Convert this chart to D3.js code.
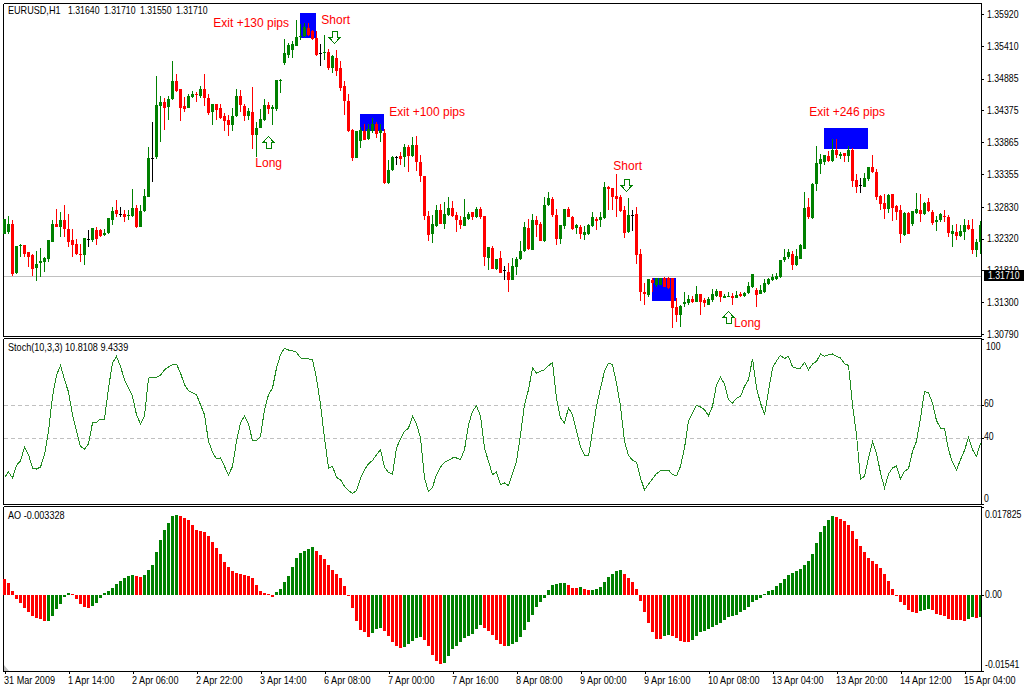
<!DOCTYPE html>
<html><head><meta charset="utf-8">
<script src="https://cdn.jsdelivr.net/npm/d3@7"></script>
<style>
html,body{margin:0;padding:0;background:#fff;overflow:hidden}
svg{display:block}
text{font-family:"Liberation Sans",Arial,sans-serif}
.small{font-size:10.5px;fill:#000}
.note{font-size:12px;fill:#ff0000}
.tick text{font-family:"Liberation Sans",Arial,sans-serif;font-size:10.5px;fill:#000}
.domain,.tick line{stroke:#000;shape-rendering:crispEdges}
</style></head><body>
<svg id="c" width="1024" height="687"></svg>
<script>
// Prices are pips above priceBase.
const priceBase = 1.30;
const highs = [263,268,262,220,223,222,211,207,212,217,203,230,262,279,274,286,272,248,231,224,233,246,249,251,248,248,265,283,294,283,277,278,311,286,286,311,378,419,493,461,457,461,517,496,472,459,464,469,467,477,496,464,448,448,448,434,430,442,472,470,448,441,475,419,439,456,451,446,486,488,552,546,548,582,576,578,578,567,564,544,558,536,526,535,516,484,464,407,405,411,416,416,426,419,416,407,358,364,365,371,383,382,395,396,366,332,276,270,286,287,290,298,293,274,268,295,274,275,283,282,268,218,220,200,212,188,193,201,203,228,258,263,272,268,259,298,307,298,280,254,279,282,268,255,254,252,256,274,266,274,322,317,313,336,302,284,297,278,283,216,160,167,169,168,168,170,170,168,136,125,147,141,140,156,143,136,139,151,151,148,143,146,144,148,147,146,163,175,152,158,167,168,175,176,198,216,216,212,215,223,307,297,321,380,367,366,372,392,392,371,369,380,377,335,329,337,346,366,343,302,303,303,304,286,286,274,274,276,305,303,291,297,278,268,273,278,270,254,255,254,263,262,263,232,260];
const lows = [239,240,172,175,203,203,187,172,164,171,179,195,226,251,235,235,219,203,206,195,190,219,227,222,234,236,239,254,267,267,259,261,267,249,251,274,298,322,360,386,406,422,454,467,421,435,442,457,451,458,445,430,414,422,423,404,396,404,427,435,421,422,376,363,409,421,431,414,437,465,510,521,521,540,551,555,557,550,525,508,519,502,498,493,468,430,403,357,361,377,390,390,402,393,387,319,320,341,350,350,346,338,362,340,323,262,228,225,250,256,247,268,266,243,247,252,261,261,265,264,188,182,183,182,177,166,147,166,174,198,210,214,214,235,228,227,284,266,221,224,248,266,246,239,231,230,238,251,246,251,264,277,277,267,275,233,241,244,191,132,126,139,147,154,157,154,151,89,99,91,123,125,129,130,110,122,125,131,139,130,136,138,126,136,138,138,143,152,123,143,145,158,164,166,169,195,200,181,188,199,215,264,263,309,335,350,355,354,361,360,355,355,315,305,305,314,324,337,294,278,264,273,260,261,225,236,239,252,271,259,270,274,254,244,258,258,234,218,230,235,229,246,207,202,208];
const opens = [240,243,255,176,220,221,211,205,185,193,194,199,227,256,251,262,247,230,223,207,206,231,229,246,246,238,241,262,278,272,272,269,268,281,251,276,299,361,362,445,451,443,456,484,472,445,442,459,464,461,472,458,435,448,442,429,422,414,428,461,445,429,435,398,410,422,446,439,440,484,513,526,534,541,555,556,570,565,553,529,529,531,506,522,505,476,453,406,361,389,405,392,405,416,402,402,321,342,362,364,362,378,364,382,355,332,268,239,252,278,255,270,281,270,262,252,263,274,267,280,268,201,217,184,201,181,178,166,187,199,212,249,214,262,255,228,286,296,270,231,252,280,266,249,250,238,239,252,263,261,265,315,313,300,299,278,243,270,272,207,147,141,166,158,158,168,168,168,122,109,127,129,135,130,143,134,126,133,140,148,137,139,140,137,143,140,144,155,150,143,146,159,165,167,170,198,202,208,190,200,216,282,265,320,351,355,364,357,374,365,369,364,374,326,318,315,327,346,339,300,289,279,303,284,278,237,273,255,273,278,271,291,274,258,261,268,267,240,242,236,242,254,247,214,226];
const closes = [263,256,175,220,222,207,203,184,192,196,201,229,256,251,262,248,227,221,207,205,233,231,249,231,236,241,265,276,272,272,267,270,281,251,276,300,361,361,446,451,442,456,484,469,442,439,461,464,463,472,458,434,448,438,425,420,414,429,461,446,429,436,398,410,424,446,440,443,486,486,529,542,544,555,557,571,559,552,526,529,531,506,525,501,474,453,405,361,405,406,390,408,416,399,406,321,342,362,362,360,378,364,382,355,332,268,238,255,278,256,272,281,268,262,254,266,272,267,280,267,203,218,183,199,177,181,166,188,199,212,251,215,262,253,228,286,297,269,232,254,279,267,247,253,239,243,254,266,260,267,315,312,299,296,276,241,270,270,206,146,143,167,160,168,168,155,152,120,109,124,130,135,131,143,130,128,135,143,148,138,140,140,136,142,140,145,156,175,141,150,161,167,171,172,198,202,211,190,204,221,281,266,320,353,359,366,356,374,366,367,364,374,324,315,318,329,346,338,299,287,279,302,281,274,240,273,240,276,279,271,289,276,257,262,271,266,241,244,236,244,254,247,214,226,254];

const stochValues = [16.1,19.4,15.7,23.4,26.2,34.3,29.9,21.8,21.2,22.4,29.9,44.0,65.2,78.0,84.0,75.3,67.9,54.1,44.0,34.9,33.3,36.5,49.1,49.5,51.5,51.5,70.3,85.4,89.5,83.4,75.3,70.3,65.2,54.1,48.5,53.1,76.3,76.7,76.9,78.0,81.4,83.0,84.4,84.8,79.4,72.3,68.7,67.3,66.2,60.2,54.1,38.0,31.5,27.3,27.9,22.8,17.6,22.8,38.0,49.1,53.3,48.5,38.4,38.4,41.0,57.2,66.2,70.3,82.4,90.5,94.5,93.3,92.9,91.9,88.5,87.9,87.9,87.5,76.3,60.2,40.0,21.8,22.8,16.1,14.7,10.7,8.1,6.4,8.1,15.7,20.8,24.4,26.4,29.9,32.9,22.4,19.2,18.2,33.9,39.6,44.0,46.0,53.1,48.5,40.0,15.7,7.5,10.1,17.8,22.4,25.4,26.4,27.9,27.9,26.9,32.9,48.1,56.1,59.6,53.1,33.9,25.8,17.8,19.4,11.7,12.7,11.1,18.2,25.8,42.0,60.2,69.3,82.4,79.4,80.4,81.4,83.8,85.8,64.2,52.1,49.1,58.2,54.1,44.0,34.5,29.5,29.1,44.0,59.2,70.3,80.4,85.4,84.4,73.3,59.2,38.0,29.5,26.6,25.4,15.7,8.5,12.1,15.3,18.4,20.2,20.6,20.6,17.8,17.0,22.8,33.9,50.5,55.1,59.8,58.8,57.2,53.5,59.2,72.3,76.9,72.7,63.2,61.2,64.2,65.2,71.3,75.3,88.1,70.3,61.2,54.1,68.3,82.4,86.8,90.1,88.1,89.5,83.2,82.4,82.4,85.8,81.4,84.8,86.4,90.9,89.5,90.5,90.9,89.5,88.5,85.0,84.0,60.2,42.0,15.1,16.8,27.9,37.6,30.9,18.8,9.7,18.2,21.8,23.0,15.1,19.8,21.4,31.9,38.0,52.1,68.3,67.3,61.2,50.5,46.0,46.0,32.9,25.2,20.6,26.9,32.5,40.4,32.9,28.9,36.9];

// Awesome Oscillator, in thousandths.
const aoValues = [3.24,2.43,.81,-.81,-1.62,-2.63,-3.50,-4.25,-4.58,-4.85,-5.26,-5.26,-4.25,-2.83,-1.82,-.40,.40,.13,-.81,-1.82,-2.43,-2.63,-2.22,-1.62,-.61,.40,.81,1.42,2.22,2.83,3.44,3.84,4.04,3.84,3.64,4.04,5.06,6.07,8.69,11.12,13.14,14.56,15.97,16.18,15.97,15.57,15.17,14.15,13.14,12.94,12.74,11.93,10.72,9.50,8.29,6.67,5.66,4.85,4.45,4.25,4.04,3.91,3.44,2.02,.81,.40,.20,-.40,.61,1.21,2.63,3.84,5.59,7.41,8.49,8.90,9.30,9.71,8.90,8.09,7.28,6.07,5.06,4.25,3.44,1.82,-.13,-2.63,-5.26,-7.08,-7.55,-8.49,-7.68,-6.87,-6.67,-7.28,-8.29,-9.50,-10.31,-10.72,-10.51,-9.91,-9.30,-8.69,-8.49,-9.10,-10.31,-12.13,-13.35,-13.95,-13.75,-12.27,-10.92,-10.31,-9.50,-8.69,-8.29,-7.89,-6.87,-6.07,-6.67,-7.28,-8.09,-9.10,-9.91,-10.31,-10.31,-9.91,-9.50,-8.49,-7.08,-5.46,-4.04,-2.43,-1.42,-.61,1.01,2.02,2.22,2.43,2.43,2.02,1.42,1.42,1.62,1.21,1.01,1.01,1.21,1.62,2.63,3.64,4.25,4.85,5.06,4.25,3.44,2.63,1.21,-1.21,-3.44,-5.66,-7.48,-8.90,-8.90,-8.29,-8.09,-8.29,-8.69,-9.30,-9.50,-9.50,-9.10,-8.29,-7.48,-7.28,-6.87,-6.47,-6.07,-5.66,-5.06,-4.45,-4.25,-4.04,-3.44,-3.03,-2.43,-1.42,-1.01,-.61,.20,.81,1.01,1.82,2.43,3.24,4.04,4.45,4.85,5.26,6.07,6.87,8.29,10.51,12.74,13.95,15.17,15.97,15.77,15.37,14.96,14.15,12.94,11.32,9.91,8.69,7.48,6.87,6.27,5.46,4.25,2.83,1.21,-.13,-1.42,-2.02,-3.03,-3.44,-3.64,-3.24,-3.03,-2.83,-3.03,-3.84,-4.04,-4.25,-4.85,-5.06,-5.06,-5.06,-5.26,-4.85,-4.45,-4.65,-4.38];
const aoColorRuns = [["r",11],["g",6],["r",5],["g",11],["r",2],["g",9],["r",24],["g",10],["r",14],["g",3],["r",5],["g",5],["r",5],["g",10],["r",6],["g",15],["r",3],["g",1],["r",2],["g",8],["r",10],["g",2],["r",5],["g",36],["r",21],["g",3],["r",9],["g",2],["r",1],["g",1]];

const timeLabels = ["31 Mar 2009","1 Apr 14:00","2 Apr 06:00","2 Apr 22:00","3 Apr 14:00","6 Apr 08:00","7 Apr 00:00","7 Apr 16:00","8 Apr 08:00","9 Apr 00:00","9 Apr 16:00","10 Apr 08:00","13 Apr 04:00","13 Apr 20:00","14 Apr 12:00","15 Apr 04:00"];
const barsPerLabel = 16;
const priceTicks = [1.35920,1.35410,1.34885,1.34375,1.33865,1.33355,1.32830,1.32320,1.31810,1.31300,1.30790];
const currentPrice = 1.31710;
const stochTicks = [100,60,40,0];
const stochLevels = [60,40];
const aoTicks = [0.017825,0,-0.01541];
const aoTickLabels = ["0.017825","0.00","-0.01541"];

const headerTexts = ["EURUSD,H1","1.31640","1.31710","1.31550","1.31710"];
const stochHeader = "Stoch(10,3,3) 10.8108 9.4339";
const aoHeader = "AO -0.003328";

// Exit zones: first bar, last bar, upper price, lower price.
const zoneBars = [[73.9,77.9],[88.9,94.9],[161.9,167.9],[204.9,215.9]];
const zonePrices = [[1.35936,1.35540],[1.34317,1.34049],[1.31688,1.31324],[1.34092,1.33756]];
const noteTexts = ["Exit +130 pips","Short","Long","Exit +100 pips","Short","Long","Exit +246 pips"];
const noteBars = [52.2,79.2,62.7,96.2,152.2,182.4,201.2];
const notePrices = [1.35712,1.35760,1.33467,1.34285,1.33419,1.30902,1.34285];
const arrowDirs = ["up","down","down","up"];
const arrowBars = [65.9,82.4,155.5,180.9];
const arrowPrices = [1.33964,1.35455,1.33083,1.31159];

const GREEN="#008000", RED="#ff0000", BLACK="#000000";
const svg = d3.select("#c");
const n = highs.length;
const x = d3.scaleLinear().domain([0,n-1]).range([4.5,4.5+4*(n-1)]);
const yP = d3.scaleLinear().domain([1.30790,1.35920]).range([334,14]);
const yS = d3.scaleLinear().domain([0,100]).range([504,339]);
const yA = d3.scaleLinear().domain([-0.01541,0.017825]).range([671,507]);
const px = v => priceBase + v/10000;

// panel frames
const frames = [[3,3,336],[3,338,504],[3,506,671]];
svg.selectAll("path.frame").data(frames).join("path").attr("class","frame")
  .attr("d",d=>`M${d[0]+.5},${d[1]+.5}H981.5M${d[0]+.5},${d[1]+.5}V${d[2]+.5}H981.5`)
  .attr("fill","none").attr("stroke","#000").attr("shape-rendering","crispEdges");

// exit zones
svg.append("g").selectAll("rect").data(zoneBars).join("rect")
  .attr("x",d=>x(d[0])).attr("width",d=>x(d[1])-x(d[0]))
  .attr("y",(d,i)=>yP(zonePrices[i][0])).attr("height",(d,i)=>yP(zonePrices[i][1])-yP(zonePrices[i][0]))
  .attr("fill","#0000ff").attr("shape-rendering","crispEdges");

// current price line
const curY = Math.floor(yP(currentPrice));
svg.append("line").attr("x1",4).attr("x2",981).attr("y1",curY+.5).attr("y2",curY+.5)
  .attr("stroke","#c0c0c0").attr("shape-rendering","crispEdges");

// candles
const candleColor = i => closes[i]>opens[i]?GREEN:closes[i]<opens[i]?RED:BLACK;
const idx = d3.range(n);
const candles = svg.append("g").attr("shape-rendering","crispEdges");
candles.selectAll("rect.w").data(idx).join("rect").attr("class","w")
  .attr("x",i=>x(i)-.5).attr("width",1)
  .attr("y",i=>Math.round(yP(px(highs[i])))).attr("height",i=>Math.max(1,Math.round(yP(px(lows[i])))-Math.round(yP(px(highs[i])))))
  .attr("fill",candleColor);
candles.selectAll("rect.b").data(idx).join("rect").attr("class","b")
  .attr("x",i=>x(i)-1.5).attr("width",3)
  .attr("y",i=>Math.round(yP(px(Math.max(opens[i],closes[i])))))
  .attr("height",i=>Math.max(1,Math.round(yP(px(Math.min(opens[i],closes[i]))))-Math.round(yP(px(Math.max(opens[i],closes[i]))))))
  .attr("fill",candleColor);

// arrows
svg.append("g").selectAll("path").data(arrowDirs).join("path")
  .attr("d","M0,0L5.5,6H2.5V12H-2.5V6H-5.5Z")
  .attr("transform",(d,i)=>`translate(${Math.round(x(arrowBars[i]))+.5},${Math.round(yP(arrowPrices[i]))+.5}) scale(1,${d==="up"?1:-1})`)
  .attr("fill","none").attr("stroke",GREEN).attr("shape-rendering","crispEdges");

// notes
svg.append("g").selectAll("text").data(noteTexts).join("text").attr("class","note")
  .attr("x",(d,i)=>x(noteBars[i])).attr("y",(d,i)=>yP(notePrices[i])).text(d=>d);

// header text
const hdrX=[8,68,104,140,176];
svg.append("g").selectAll("text").data(headerTexts).join("text").attr("class","small")
  .attr("x",(d,i)=>hdrX[i]).attr("y",14).text(d=>d);
svg.append("text").attr("class","small").attr("x",8).attr("y",351).text(stochHeader);
svg.append("text").attr("class","small").attr("x",8).attr("y",519).text(aoHeader);

// stochastic
svg.append("g").selectAll("line").data(stochLevels).join("line")
  .attr("x1",4).attr("x2",981).attr("y1",d=>Math.round(yS(d))+.5).attr("y2",d=>Math.round(yS(d))+.5)
  .attr("stroke","#c0c0c0").attr("stroke-dasharray","4,3").attr("shape-rendering","crispEdges");
svg.append("path").datum(stochValues)
  .attr("d",d3.line().x((d,i)=>x(i)).y(d=>yS(d)))
  .attr("fill","none").attr("stroke","#228b22").attr("stroke-width",1).attr("shape-rendering","crispEdges");

// AO
const aoColors = aoColorRuns.flatMap(([c,k])=>Array(k).fill(c));
svg.append("g").attr("shape-rendering","crispEdges").selectAll("rect").data(aoValues).join("rect")
  .attr("x",(d,i)=>x(i)-1.5).attr("width",3)
  .attr("y",d=>Math.round(yA(Math.max(d,0)/1000)))
  .attr("height",d=>Math.max(1,Math.abs(Math.round(yA(d/1000))-Math.round(yA(0)))))
  .attr("fill",(d,i)=>aoColors[i]==="g"?GREEN:RED);

// shift marker
svg.append("path").attr("d","M4,665L9,671H4Z").attr("fill","#c0c0c0");

// axes
const axP = svg.append("g").attr("transform","translate(981,0)")
  .call(d3.axisRight(yP).tickValues(priceTicks).tickFormat(d3.format(".5f")).tickSize(3).tickPadding(3));
const axS = svg.append("g").attr("transform","translate(981,0)")
  .call(d3.axisRight(yS).tickValues(stochTicks).tickFormat(d=>d).tickSize(3).tickPadding(1));
axS.selectAll(".tick text").attr("dy",d=>d===100?"1.0em":d===0?"-0.25em":".1em").attr("x",d=>d===100?5:3);
const axA = svg.append("g").attr("transform","translate(981,0)")
  .call(d3.axisRight(yA).tickValues(aoTicks).tickFormat((d,i)=>aoTickLabels[i]).tickSize(3).tickPadding(1));
axA.selectAll(".tick text").attr("dy",(d,i)=>i===0?"1em":i===2?"-.35em":".25em");
axA.selectAll(".tick text").attr("x",4);
const axT = svg.append("g").attr("transform","translate(0,671)")
  .call(d3.axisBottom(x).tickValues(timeLabels.map((d,i)=>i*barsPerLabel)).tickFormat((d,i)=>timeLabels[i]).tickSize(3).tickPadding(1));
axT.select(".domain").remove();
axT.selectAll(".tick text").attr("text-anchor","start").attr("x",-1).attr("dy",".85em");
[axP,axS,axA].forEach(a=>a.selectAll(".domain").remove());
// right axis rails per panel
svg.selectAll("line.rail").data(frames).join("line").attr("class","rail")
  .attr("x1",981.5).attr("x2",981.5).attr("y1",d=>d[1]).attr("y2",d=>d[2]+1)
  .attr("stroke","#000").attr("shape-rendering","crispEdges");

// current price tag
svg.append("rect").attr("x",984).attr("width",40).attr("y",curY-6).attr("height",11).attr("fill","#000");
svg.append("text").attr("class","small").attr("x",988).attr("y",curY+3).style("fill","#fff").text(d3.format(".5f")(currentPrice));

// condense the small labels to the narrow bitmap width of the source font
svg.selectAll(".small, .tick text").each(function(){
  const t = this.textContent;
  const k = /^-?[0-9.]+$/.test(t) ? 0.83 : 0.865;
  this.setAttribute("textLength", this.getComputedTextLength()*k);
  this.setAttribute("lengthAdjust","spacingAndGlyphs");
});
</script></body></html>
